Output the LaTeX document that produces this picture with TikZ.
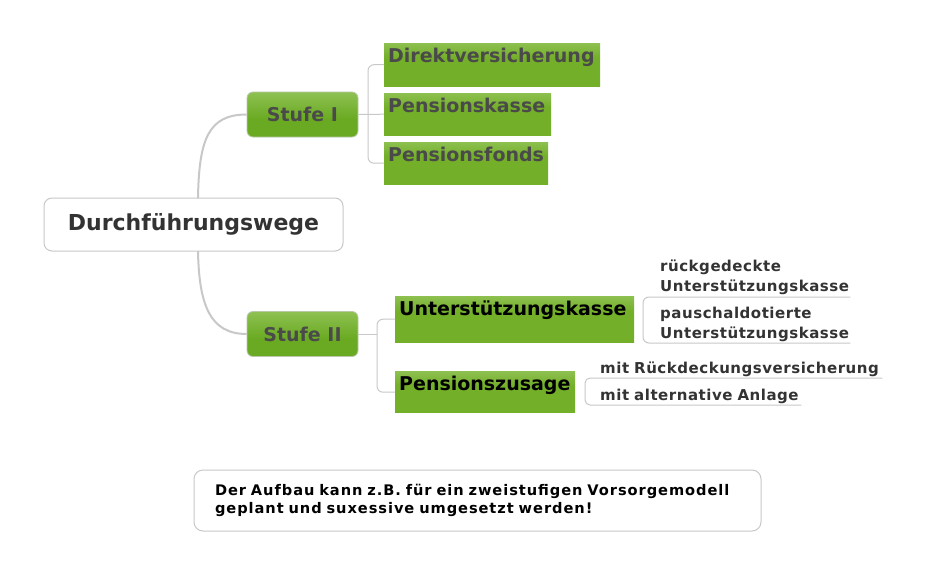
\documentclass[tikz,border=0pt]{standalone}
\usepackage{fontspec}
\setmainfont{DejaVu Sans}
\newfontfamily\subfont[LetterSpace=3.5]{DejaVu Sans}
\newfontfamily\notefont[LetterSpace=6.5]{DejaVu Sans}
\usetikzlibrary{calc}
\definecolor{glight}{RGB}{180,216,138}
\definecolor{gdark}{RGB}{115,175,40}
\definecolor{slight}{RGB}{172,212,122}
\definecolor{sdark}{RGB}{106,170,34}
\definecolor{sborder}{RGB}{184,200,168}
\definecolor{lineg}{RGB}{200,200,200}
\definecolor{txtg}{RGB}{74,74,74}
\definecolor{txtd}{RGB}{51,51,51}
\pgfdeclareverticalshading{greenbox}{100bp}{color(0bp)=(gdark); color(58bp)=(gdark); color(100bp)=(glight)}
\pgfdeclareverticalshading{stufebox}{100bp}{color(0bp)=(sdark); color(45bp)=(sdark); color(100bp)=(slight)}
\tikzset{
  rootbox/.style={draw=lineg, line width=1pt, fill=white, rounded corners=8pt,
    minimum width=299pt, minimum height=53pt, inner sep=0pt,
    font=\bfseries\fontsize{22}{26}\selectfont, text=txtd},
  stufe/.style={draw=sborder, line width=0.8pt, shading=stufebox, rounded corners=6pt,
    minimum width=111pt, minimum height=45pt, inner sep=0pt,
    font=\bfseries\fontsize{19}{23}\selectfont, text=txtg},
  gbox/.style={shading=greenbox, anchor=north west, inner xsep=4pt, inner ysep=4pt,
    text height=15pt, align=left, font=\bfseries\fontsize{19}{23}\selectfont, text=txtg},
  subitem/.style={anchor=south west, inner xsep=0pt, align=left,
    font=\subfont\bfseries\fontsize{15}{20}\selectfont, text=txtd},
  bigconn/.style={draw=lineg, line width=2pt},
  conn/.style={draw=lineg, line width=1pt, rounded corners=6pt},
  notebox/.style={draw=lineg, line width=1pt, fill=white, rounded corners=9pt,
    minimum width=567pt, minimum height=61pt, inner xsep=21pt, inner ysep=0pt,
    text width=525pt, align=left, font=\notefont\bfseries\fontsize{14.6}{18.5}\selectfont, text=black}
}
\begin{document}
\begin{tikzpicture}[x=1pt,y=-1pt]
\useasboundingbox[fill=white] (0,0) rectangle (927,574);

% root and main branches
\node[rootbox] (root) at (193.5,224.5) {Durchführungswege};
\node[stufe] (s1) at (302.5,114.5) {Stufe I};
\node[stufe] (s2) at (302.5,334) {Stufe II};

\coordinate (rt) at (198,198);
\coordinate (rb) at (198,251);
\draw[bigconn] (rt) .. controls (199,140) and (208,114.5) .. (s1.west);
\draw[bigconn] (rb) .. controls (199,305) and (210,334) .. (s2.west);

% Stufe I children
\node[gbox, text width=208pt, text depth=20pt] (dv) at (384,43) {Direktversicherung};
\node[gbox, text width=159pt, text depth=19pt] (pk) at (384,93) {Pensionskasse};
\node[gbox, text width=156pt, text depth=19pt] (pf) at (384,142) {Pensionsfonds};

\coordinate (b1) at (368,114.5);
\draw[conn] (s1.east) -- (pk.west);
\draw[conn] (dv.west) -| (b1) |- (pf.west);

% Stufe II children
\node[gbox, text=black, text width=231pt, text depth=23pt] (uk) at (395,296) {Unterstützungskasse};
\node[gbox, text=black, text width=172pt, text depth=18pt] (pz) at (395,371.5) {Pensionszusage};

\coordinate (b2) at (377,334);
\draw[conn] (s2.east) -- (b2);
\draw[conn] (uk.west) -| (b2) |- (pz.west);

% Unterstuetzungskasse sub-items
\node[subitem, inner ysep=1.8pt, text width=190pt] (r1) at (660,297) {rückgedeckte\\Unterstützungskasse};
\node[subitem, inner ysep=1.3pt, text width=190pt] (r2) at (660,343) {pauschaldotierte\\Unterstützungskasse};
\coordinate (ub) at (643,320);
\draw[conn] (r1.south east) -| (ub) |- (r2.south east);

% Pensionszusage sub-items
\node[subitem, inner ysep=1.3pt, text width=282pt] (z1) at (600,378) {mit Rückdeckungsversicherung};
\node[subitem, inner ysep=0.6pt, text width=201pt] (z2) at (600,405) {mit alternative Anlage};
\coordinate (zb) at (585,392);
\draw[conn, rounded corners=5pt] (z1.south east) -| (zb) |- (z2.south east);

% note
\node[notebox] (note) at (477.5,500.5) {Der Aufbau kann z.B. für ein zweistufigen Vorsorgemodell\\geplant und suxessive umgesetzt werden!};
\end{tikzpicture}
\end{document}
